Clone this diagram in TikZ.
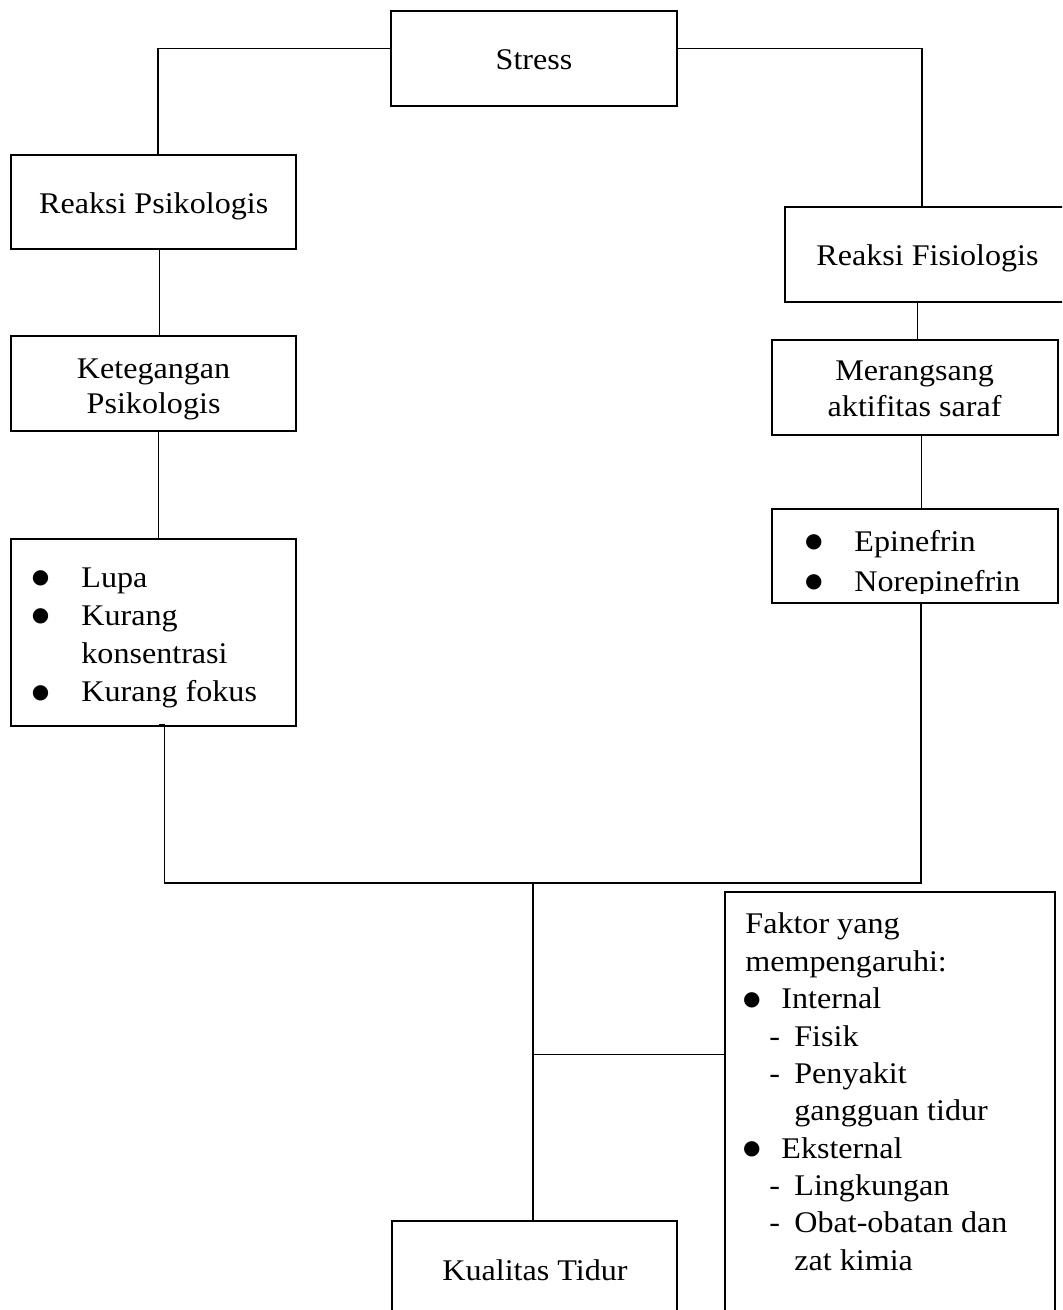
\documentclass[tikz,border=0pt]{standalone}
\usepackage{fontspec}
\setmainfont{Liberation Serif}[FakeStretch=1.07]
\newfontfamily\djv{DejaVu Sans}
\usetikzlibrary{calc}
\newdimen\pu \pu=0.5pt
\newcommand{\fsz}[1]{\fontsize{15}{#1}\selectfont}
\newcommand{\bdot}{\hspace*{-1.2pt}\raisebox{1.7pt}{\djv\fontsize{10}{10}\selectfont ●}}
\newcommand{\bl}[2]{\makebox[#1\pu][l]{\bdot}#2}
\newcommand{\ds}[1]{\hspace*{24\pu}\makebox[25\pu][l]{-}#1}
\begin{document}
\begin{tikzpicture}[x=0.5pt,y=-0.5pt,
  box/.style={draw, line width=1.25pt, inner sep=0pt},
  conn/.style={line width=0.6pt},
  txt/.style={inner sep=0pt, font=\fsz{17.5}}]
\useasboundingbox (0,0) rectangle (1062,1310);
\clip (0,0) rectangle (1062,1310);
\fill[white] (0,0) rectangle (1062,1310);

% boxes
\node[box, minimum width=286\pu, minimum height=95\pu] (stress) at (534,58.5) {};
\node[box, minimum width=285\pu, minimum height=94\pu] (rpsi) at (153.5,202) {};
\node[box, minimum width=285\pu, minimum height=95\pu] (rfis) at (927.5,254.5) {};
\node[box, minimum width=285\pu, minimum height=95\pu] (keteg) at (153.5,383.5) {};
\node[box, minimum width=285\pu, minimum height=187\pu] (lupa) at (153.5,632.5) {};
\node[box, minimum width=286\pu, minimum height=95\pu] (meran) at (915,387.5) {};
\node[box, minimum width=286\pu, minimum height=94\pu] (epi) at (915,556) {};
\node[box, minimum width=285\pu, minimum height=95\pu] (kual) at (534.5,1268.5) {};
\node[box, minimum width=330\pu, minimum height=448\pu] (faktor) at (890,1116) {};

% texts
\node[txt, anchor=base] (stresstxt) at (534,70) {Stress};
\node[txt, anchor=base] (rpsitxt) at (153.7,213.3) {Reaksi Psikologis};
\node[txt, anchor=base] (rfistxt) at (927.5,265.7) {Reaksi Fisiologis};
\node[txt, align=center, font=\fsz{17.5}] (ketegtxt) at (153.6,389.2) {Ketegangan\\Psikologis};
\node[txt, align=center, font=\fsz{17.85}] (merantxt) at (914.6,389.0) {Merangsang\\aktifitas saraf};
\node[txt, align=left, anchor=west, font=\fsz{19.12}] (lupatxt) at (34,637.8)
  {\bl{47}{Lupa}\\ \bl{47}{Kurang}\\ \hspace*{47\pu}konsentrasi\\ \bl{47}{Kurang fokus}};
\begin{scope}
  \clip (epi.north west) rectangle ($(epi.south east)+(0,-10.5)$);
  \node[txt, align=left, anchor=west, font=\fsz{20}] (epitxt) at (807,564)
    {\bl{47}{Epinefrin}\\ \bl{47}{Norepinefrin}};
\end{scope}
\node[txt, anchor=base] (kualtxt) at (535,1280) {Kualitas Tidur};
\node[txt, align=left, anchor=west, font=\fsz{18.67}] (faktortxt) at (745,1091.75)
  {Faktor yang\\ mempengaruhi:\\ \bl{36}{Internal}\\ \ds{Fisik}\\ \ds{Penyakit}\\
   \hspace*{49\pu}gangguan tidur\\ \bl{36}{Eksternal}\\ \ds{Lingkungan}\\
   \ds{Obat-obatan dan}\\ \hspace*{49\pu}zat kimia};

% connectors
\coordinate (join) at (533,883);
\coordinate (branch) at (533,1054.5);
\draw[conn] ($(stress.west)+(0,-9.8)$) -| ($(rpsi.north)+(4.5,0)$);
\draw[conn] ($(stress.east)+(0,-9.8)$) -| ($(rfis.north)+(-5.5,0)$);
\draw[conn] ($(rpsi.south)+(6,0)$) -- ($(keteg.north)+(6,0)$);
\draw[conn] ($(keteg.south)+(5.2,0)$) -- ($(lupa.north)+(5.2,0)$);
\draw[conn] ($(rfis.south)+(-10,0)$) -- ($(meran.north)+(2.5,0)$);
\draw[conn] ($(meran.south)+(6.7,0)$) -- ($(epi.north)+(6.7,0)$);
\draw[conn] ($(lupa.south)+(5.5,-2.5)$) -- ++(5.5,0) |- (join) -| ($(epi.south)+(6,0)$);
\draw[conn] (join) -- ($(kual.north)+(-1.5,0)$);
\draw[conn] (branch) -- (branch -| faktor.west);
\end{tikzpicture}
\end{document}
